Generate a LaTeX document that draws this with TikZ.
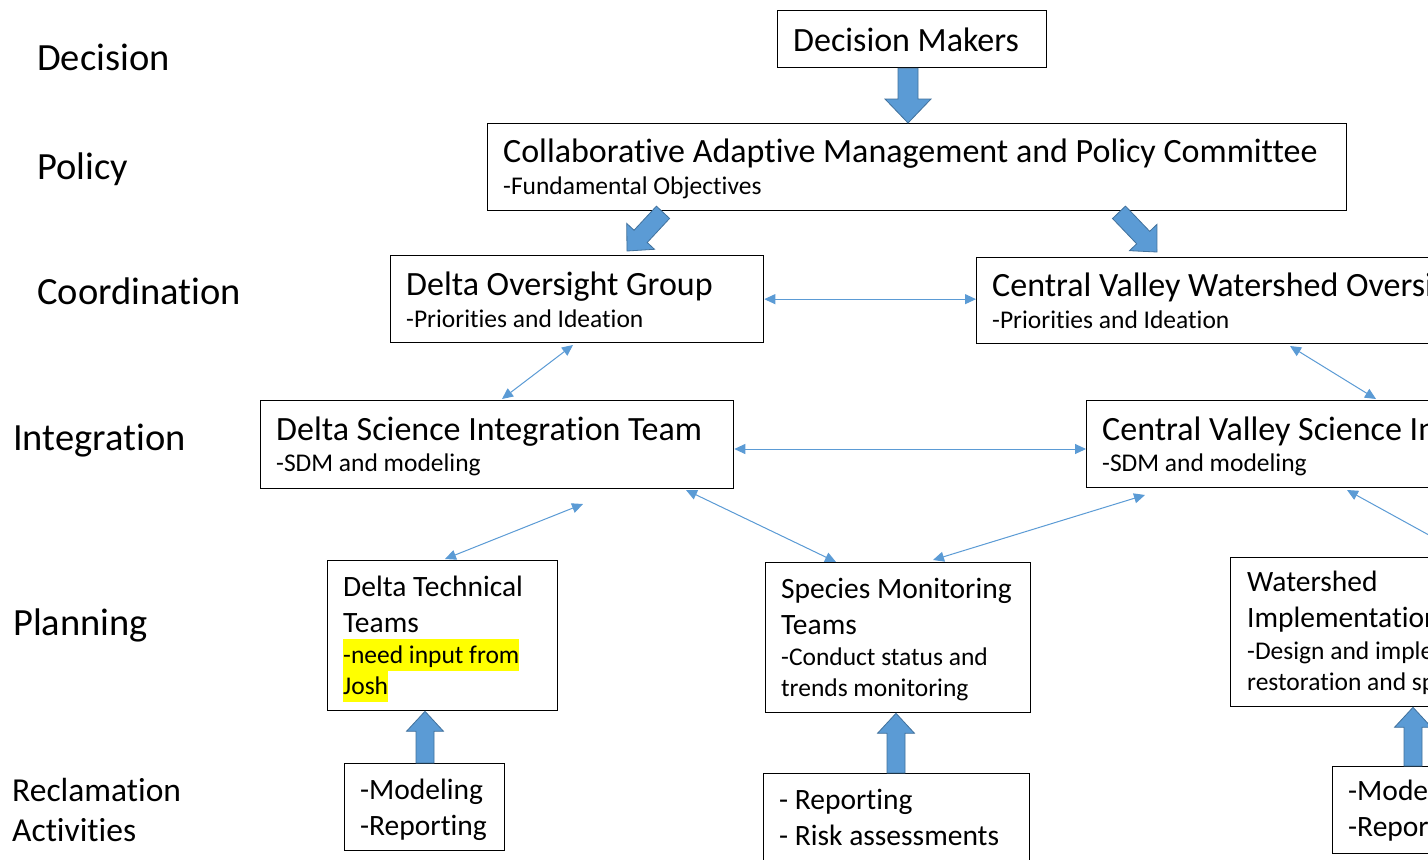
\documentclass[tikz,border=0pt]{standalone}
\usepackage{fontspec}
\setmainfont{Carlito}[Ligatures=NoCommon]
\usetikzlibrary{calc,arrows.meta}
\definecolor{arrowblue}{HTML}{5B9BD5}
\definecolor{arrowedge}{HTML}{41719C}
\definecolor{hlyellow}{HTML}{FFFF00}
% fat block arrow from #1 to #2; half shaft #3, half head #4, head length #5
\newcommand{\fatarrow}[5]{%
  \coordinate (faP) at ($(#2)!#5!(#1)$);
  \filldraw[fatarrowstyle]
    ($(#1)!#3!90:(#2)$) -- ($(faP)!#3!-90:(#1)$) -- ($(faP)!#4!-90:(#1)$) --
    (#2) -- ($(faP)!#4!90:(#1)$) -- ($(faP)!#3!90:(#1)$) -- ($(#1)!#3!-90:(#2)$) -- cycle;}
\begin{document}
\begin{tikzpicture}[x=1pt,y=-1pt,
  box/.style={draw=black, line width=1.3pt, fill=white, inner sep=0pt, anchor=north west},
  txt/.style={inner sep=0pt, anchor=base west},
  lbl/.style={txt, font=\fontsize{38.5}{46}\selectfont},
  lblsmall/.style={txt, font=\fontsize{33.5}{40}\selectfont},
  ttl/.style={txt, font=\fontsize{34}{40}\selectfont},
  sub/.style={txt, font=\fontsize{25.5}{30}\selectfont},
  ptl/.style={txt, font=\fontsize{29.5}{35}\selectfont},
  psub/.style={txt, font=\fontsize{25.5}{30}\selectfont},
  btxt/.style={txt, font=\fontsize{29.5}{35}\selectfont},
  hl/.style={fill=hlyellow, text height=24pt, text depth=8pt},
  fatarrowstyle/.style={fill=arrowblue, draw=arrowedge, line width=0.8pt, line join=miter},
  thin/.style={draw=arrowblue, line width=1pt,
    {Triangle[length=11pt,width=10pt]}-{Triangle[length=11pt,width=10pt]}}]
\useasboundingbox (0,0) rectangle (1428,860);
\clip (0,0) rectangle (1428,860);
\fill[white] (0,0) rectangle (1428,860);

% left labels
\node[lbl] (lDecision) at (37,70) {Decision};
\node[lbl] (lPolicy) at (37,179) {Policy};
\node[lbl] (lCoord) at (37,304) {Coordination};
\node[lbl] (lInteg) at (13,450) {Integration};
\node[lbl] (lPlan) at (13,635) {Planning};
\node[lblsmall] (lRecl) at (12,801) {Reclamation};
\node[lblsmall] (lAct) at (12,841) {Activities};

% boxes
\node[box, minimum width=269pt, minimum height=57pt] (dm) at (777,10) {};
\node[box, minimum width=859pt, minimum height=87pt] (cam) at (487,123) {};
\node[box, minimum width=373pt, minimum height=87pt] (dog) at (390,255) {};
\node[box, minimum width=600pt, minimum height=86pt] (cvwo) at (976,257) {};
\node[box, minimum width=473pt, minimum height=88pt] (dsit) at (260,400) {};
\node[box, minimum width=500pt, minimum height=87pt] (cvsi) at (1086,400) {};
\node[box, minimum width=230pt, minimum height=150pt] (dtt) at (327,560) {};
\node[box, minimum width=265pt, minimum height=150pt] (smt) at (765,562) {};
\node[box, minimum width=300pt, minimum height=149pt] (wi) at (1230,557) {};
\node[box, minimum width=160pt, minimum height=87pt] (ba) at (344,763) {};
\node[box, minimum width=266pt, minimum height=100pt] (bb) at (763,773) {};
\node[box, minimum width=200pt, minimum height=87pt] (bc) at (1332,766) {};

% texts
\node[ttl] (dmT) at (793,51) {Decision Makers};
\node[ttl] (camT) at (503,162) {Collaborative Adaptive Management and Policy Committee};
\node[sub] (camS) at (503,194) {-Fundamental Objectives};
\node[ttl] (dogT) at (406,295) {Delta Oversight Group};
\node[sub] (dogS) at (406,327) {-Priorities and Ideation};
\node[ttl] (cvwoT) at (992,296) {Central Valley Watershed Oversight};
\node[sub] (cvwoS) at (992,328) {-Priorities and Ideation};
\node[ttl] (dsitT) at (276,440) {Delta Science Integration Team};
\node[sub] (dsitS) at (276,471) {-SDM and modeling};
\node[ttl] (cvsiT) at (1102,440) {Central Valley Science Integration};
\node[sub] (cvsiS) at (1102,471) {-SDM and modeling};

\node[ptl] (dtt1) at (343,596) {Delta Technical};
\node[ptl] (dtt2) at (343,632) {Teams};
\node[psub, hl] (dtt3) at (343,663) {-need input from};
\node[psub, hl] (dtt4) at (343,694) {Josh};

\node[ptl] (smt1) at (781,598) {Species Monitoring};
\node[ptl] (smt2) at (781,634) {Teams};
\node[psub] (smt3) at (781,665) {-Conduct status and};
\node[psub] (smt4) at (781,696) {trends monitoring};

\node[ptl] (wi1) at (1247,591) {Watershed};
\node[ptl] (wi2) at (1247,627) {Implementation};
\node[psub] (wi3) at (1247,659) {-Design and implement};
\node[psub] (wi4) at (1247,690) {restoration and species};

\node[btxt] (ba1) at (360,799) {-Modeling};
\node[btxt] (ba2) at (360,835) {-Reporting};
\node[btxt] (bb1) at (779,809) {- Reporting};
\node[btxt] (bb2) at (779,845) {- Risk assessments};
\node[btxt] (bc1) at (1348,800) {-Modeling};
\node[btxt] (bc2) at (1348,836) {-Reporting};

% fat arrows
\coordinate (f1s) at (dm.south -| 908,0);
\coordinate (f1e) at (cam.north -| 908,0);
\fatarrow{f1s}{f1e}{10pt}{23pt}{24pt}
\coordinate (f2s) at ($(cam.south west)+(176,1)$);
\coordinate (f2e) at (627,251);
\fatarrow{f2s}{f2e}{9pt}{19pt}{20pt}
\coordinate (f3s) at ($(cam.south west)+(632,1)$);
\coordinate (f3e) at (1157,252);
\fatarrow{f3s}{f3e}{9pt}{19pt}{20pt}
\coordinate (f4s) at (ba.north -| 425,0);
\coordinate (f4e) at (dtt.south -| 425,0);
\fatarrow{f4s}{f4e}{9pt}{18.5pt}{20pt}
\coordinate (f5s) at (bb.north -| 896,0);
\coordinate (f5e) at (smt.south -| 896,0);
\fatarrow{f5s}{f5e}{9pt}{18.5pt}{20pt}
\coordinate (f6s) at (bc.north -| 1413,0);
\coordinate (f6e) at (wi.south -| 1413,0);
\fatarrow{f6s}{f6e}{9pt}{18.5pt}{20pt}

% thin double arrows
\draw[thin] (dog.east) -- (dog.east -| cvwo.west);
\coordinate (t2a) at (573,345);
\coordinate (t2b) at (502,399);
\draw[thin] (t2a) -- (t2b);
\coordinate (t3a) at (1290,346);
\coordinate (t3b) at (1376,399);
\draw[thin] (t3a) -- (t3b);
\coordinate (t4a) at (dsit.east |- 0,449);
\coordinate (t4b) at (cvsi.west |- 0,449);
\draw[thin] (t4a) -- (t4b);
\coordinate (t5a) at (445,559);
\coordinate (t5b) at (583,504);
\draw[thin] (t5a) -- (t5b);
\coordinate (t6a) at (836,562);
\coordinate (t6b) at (686,490);
\draw[thin] (t6a) -- (t6b);
\coordinate (t7a) at (933,560);
\coordinate (t7b) at (1145,495);
\draw[thin] (t7a) -- (t7b);
\coordinate (t8a) at (1467,556);
\coordinate (t8b) at (1347,490);
\draw[thin] (t8a) -- (t8b);
\end{tikzpicture}
\end{document}
